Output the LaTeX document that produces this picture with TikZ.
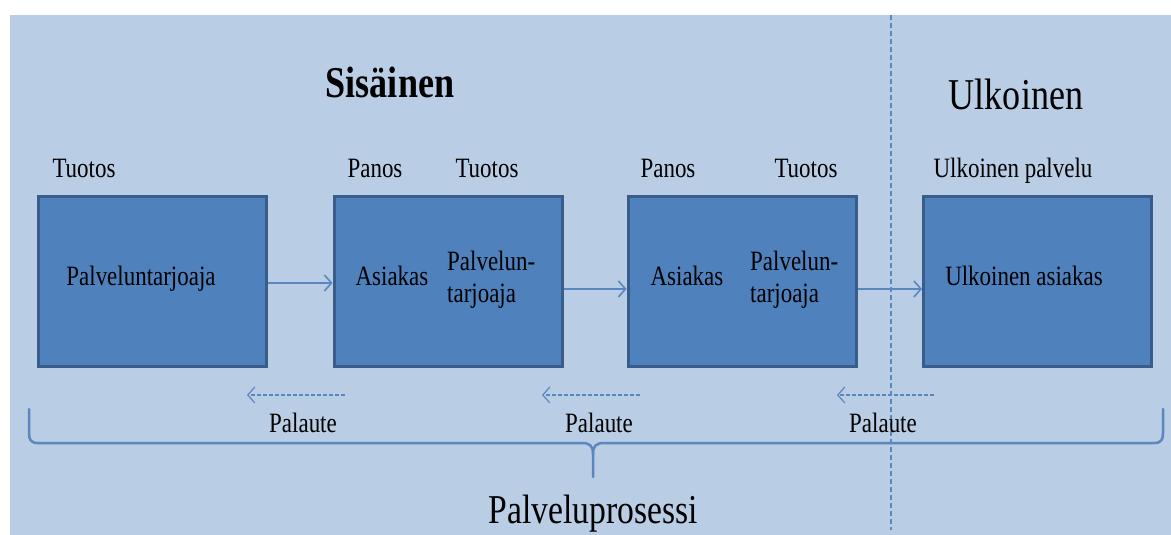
\documentclass[tikz,border=0pt]{standalone}
\usepackage{fontspec}
\setmainfont{Liberation Serif}[FakeStretch=0.82]
\usetikzlibrary{arrows.meta}
\definecolor{bgblue}{HTML}{B9CDE5}
\definecolor{boxblue}{HTML}{4F81BD}
\definecolor{edgeblue}{HTML}{385D8A}
\definecolor{lineblue}{HTML}{5B87C0}
\newcommand{\lbl}{\fontsize{28}{32}\selectfont}
\newcommand{\ttl}{\fontsize{44}{48}\selectfont}

\begin{document}
\begin{tikzpicture}[x=1pt, y=-1pt, every node/.style={inner sep=0pt, text=black},
      box/.style={draw=edgeblue, fill=boxblue, line width=3pt,
                  minimum width=228pt, minimum height=170pt},
      lab/.style={font=\lbl, anchor=base},
      ar/.style={-{Straight Barb[length=7pt, width=16pt]}, draw=lineblue, line width=1.6pt},
      fb/.style={-{Straight Barb[length=7pt, width=16pt]}, draw=lineblue, line width=1.2pt,
                 dash pattern=on 4pt off 2pt},
      brace/.style={draw=lineblue, line width=2.5pt, line cap=round}]
    \useasboundingbox (0,0) rectangle (1171,535);
    \fill[bgblue] (10,15) rectangle (1171,535);
    % dividing line
    \draw[lineblue, line width=1.2pt, dash pattern=on 5pt off 3pt] (891,15) -- (891,530);
    % titles
    \node[font=\ttl\bfseries, anchor=base] (sis) at (390,98) {Sisäinen};
    \node[font=\ttl, anchor=base] (ulk) at (1016,110) {Ulkoinen};
    % boxes
    \node[box] (b1) at (152.5,281.5) {};
    \node[box] (b2) at (448,281.5) {};
    \node[box] (b3) at (742,281.5) {};
    \node[box] (b4) at (1037.5,281.5) {};
    % labels above boxes
    \node[lab] (t1) at (84,177) {Tuotos};
    \node[lab] (p2) at (375,177) {Panos};
    \node[lab] (t2) at (487,177) {Tuotos};
    \node[lab] (p3) at (668,177) {Panos};
    \node[lab] (t3) at (806,177) {Tuotos};
    \node[lab] (up) at (1013,177) {Ulkoinen palvelu};
    % box texts
    \node[lab] (pt1) at (141,285) {Palveluntarjoaja};
    \node[lab] (a2) at (392,285) {Asiakas};
    \node[font=\lbl, anchor=west, align=left] (pt2) at (447,280) {Palvelun-\\tarjoaja};
    \node[lab] (a3) at (687,285) {Asiakas};
    \node[font=\lbl, anchor=west, align=left] (pt3) at (750,280) {Palvelun-\\tarjoaja};
    \node[lab] (ua) at (1024,285) {Ulkoinen asiakas};
    \draw[ar] ([yshift=-1.5pt]b1.east) -- ([yshift=-1.5pt]b2.west);
    \draw[ar] ([yshift=-7.5pt]b2.east) -- ([yshift=-7.5pt]b3.west);
    \draw[ar] ([yshift=-7.5pt]b3.east) -- ([yshift=-7.5pt]b4.west);
    % feedback
    \coordinate (f1s) at (345,395); \coordinate (f1e) at (247,395);
    \coordinate (f2s) at (640,395); \coordinate (f2e) at (542,395);
    \coordinate (f3s) at (934,395); \coordinate (f3e) at (837,395);
    \draw[fb] (f1s) -- (f1e); \draw[fb] (f2s) -- (f2e); \draw[fb] (f3s) -- (f3e);
    \node[lab] (pa1) at (303,432) {Palaute};
    \node[lab] (pa2) at (599,432) {Palaute};
    \node[lab] (pa3) at (883,432) {Palaute};
    % brace
    \draw[brace] (29,409) -- (29,433) .. controls (29,440) and (31,443) .. (38,443) -- (582,443)
      .. controls (590,443) and (593,446) .. (593,454) -- (593,477);
    \draw[brace] (593,454) .. controls (593,446) and (596,443) .. (604,443) -- (1154,443)
      .. controls (1161,443) and (1163,440) .. (1163,433) -- (1163,409);
    \node[font=\fontsize{41}{46}\selectfont, anchor=base] (pp) at (593,523) {Palveluprosessi};
  \end{tikzpicture}
\end{document}
